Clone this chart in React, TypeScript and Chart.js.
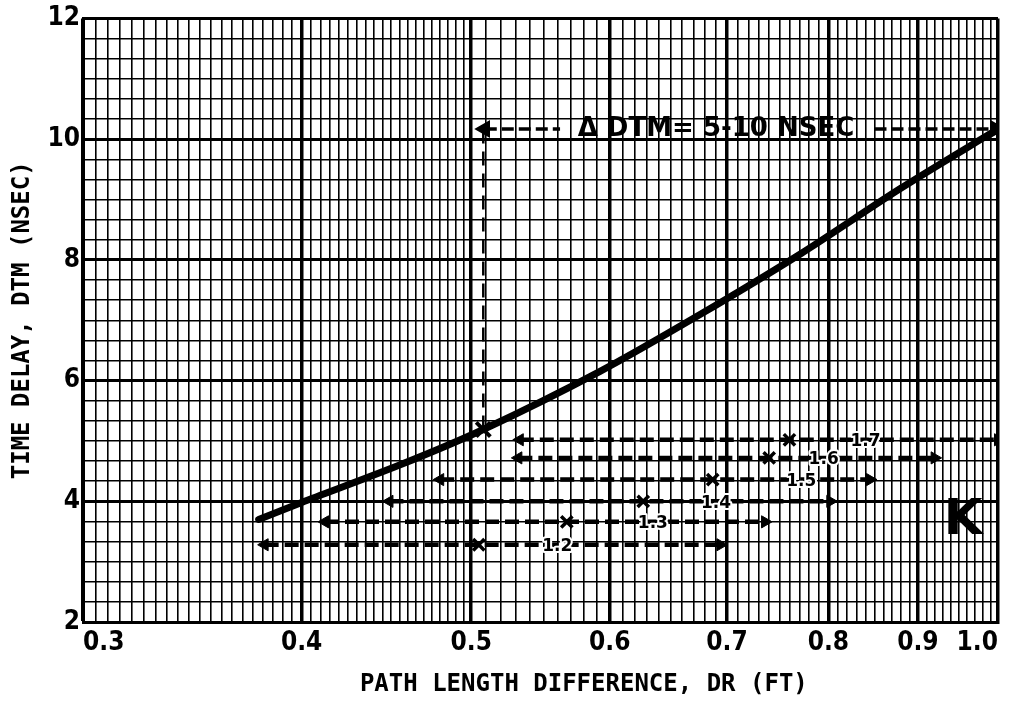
import React, { useEffect, useRef } from "react";
import { Chart, registerables } from "chart.js";

Chart.register(...registerables);

// ---- axes ----
const X_MIN = 0.3;
const X_MAX = 1.0;
const Y_MIN = 2;
const Y_MAX = 12;
const X_TICK_LABELS = [0.3, 0.4, 0.5, 0.6, 0.7, 0.8, 0.9, 1.0];
const Y_TICK_LABELS = [2, 4, 6, 8, 10, 12];
// graph-paper rulings
const X_FINE_LOW = 0.005; // ruling step below 0.5
const X_FINE_HIGH = 0.01; // ruling step from 0.5 up
const Y_FINE = 1 / 3;

// ---- main curve: DTM vs DR ----
const CURVE_DR = [0.378, 0.4, 0.455, 0.508, 0.592, 0.676, 0.771, 0.879, 1.0];
const CURVE_DTM = [3.7, 3.98, 4.6, 5.19, 6.15, 7.1, 8.1, 9.18, 10.17];

// ---- delta DTM bracket ----
const BRACKET_DR = [0.508, 0.508];
const BRACKET_DTM = [5.19, 10.17];
const DELTA_LEFT_DR = [0.509, 0.562];
const DELTA_RIGHT_DR = [0.85, 0.997];
const DELTA_DTM = 10.17;
const DELTA_TEXT = "Δ DTM= 5-10 NSEC";
const DELTA_TEXT_DR = 0.69;

// ---- dashed range arrows ----
const ARROW_DTM = [5.02, 4.72, 4.36, 4.0, 3.66, 3.28];
const ARROW_LEFT = [0.533, 0.532, 0.48, 0.449, 0.4125, 0.381];
const ARROW_RIGHT = [1.0, 0.92, 0.845, 0.802, 0.736, 0.694];
const ARROW_MARK_DR = [0.76, 0.74, 0.687, 0.627, 0.567, 0.505];
const ARROW_LABELS = ["1.7", "1.6", "1.5", "1.4", "1.3", "1.2"];
const ARROW_LABEL_DR = [0.84, 0.795, 0.772, 0.69, 0.635, 0.56];

const K_TEXT = "K";
const K_DR = 0.955;
const K_DTM = 3.68;

const Y_TITLE = "TIME DELAY, DTM (NSEC)";
const X_TITLE = "PATH LENGTH DIFFERENCE, DR (FT)";

const near = (a: number, b: number) => Math.abs(a - b) < 1e-6;

function buildXGrid(): number[] {
  const out: number[] = [];
  let v = X_MIN;
  while (v < 0.5 - 1e-9) {
    out.push(+v.toFixed(4));
    v += X_FINE_LOW;
  }
  v = 0.5;
  while (v <= X_MAX + 1e-9) {
    out.push(+v.toFixed(4));
    v += X_FINE_HIGH;
  }
  return out;
}
function buildYGrid(): number[] {
  const out: number[] = [];
  const n = Math.round((Y_MAX - Y_MIN) / Y_FINE);
  for (let i = 0; i <= n; i++) out.push(Y_MIN + i * Y_FINE);
  return out;
}

const TICK_FONT = "'Liberation Sans Narrow', 'DejaVu Sans Condensed', 'DejaVu Sans', sans-serif";
const TITLE_FONT = "'DejaVu Sans Mono', monospace";
const NOTE_FONT = "'DejaVu Sans', sans-serif";

const notesPlugin = {
  id: "notes",
  afterDatasetsDraw(chart: any) {
    const { ctx, scales } = chart;
    const xs = scales.x;
    const ys = scales.y;
    ctx.save();
    ctx.fillStyle = "#000";
    ctx.textAlign = "center";
    ctx.textBaseline = "middle";
    ctx.font = `bold 26px ${NOTE_FONT}`;
    ctx.fillText(DELTA_TEXT, xs.getPixelForValue(DELTA_TEXT_DR), ys.getPixelForValue(DELTA_DTM));
    ctx.font = `bold 17px ${NOTE_FONT}`;
    ctx.strokeStyle = "#fff";
    ctx.lineWidth = 4;
    ctx.lineJoin = "round";
    ARROW_LABELS.forEach((t, i) => {
      const px = xs.getPixelForValue(ARROW_LABEL_DR[i]);
      const py = ys.getPixelForValue(ARROW_DTM[i]) + 2;
      ctx.strokeText(t, px, py);
      ctx.fillText(t, px, py);
    });
    ctx.font = `bold 50px ${NOTE_FONT}`;
    ctx.fillText(K_TEXT, xs.getPixelForValue(K_DR), ys.getPixelForValue(K_DTM));
    ctx.restore();
  },
};

export default function App() {
  const ref = useRef<HTMLCanvasElement | null>(null);
  useEffect(() => {
    document.body.style.margin = "0";
    const canvas = ref.current;
    if (!canvas) return;
    const xGrid = buildXGrid();
    const yGrid = buildYGrid();

    const arrowSets = ARROW_DTM.map((d, i) => ({
      type: "line" as const,
      data: [
        { x: ARROW_LEFT[i], y: d },
        { x: ARROW_RIGHT[i], y: d },
      ],
      borderColor: "#000",
      backgroundColor: "#000",
      borderWidth: 4.5,
      borderDash: [14, 6],
      pointStyle: "triangle",
      pointRadius: 7,
      pointRotation: [-90, 90],
      pointBorderWidth: 1,
    }));

    const chart = new Chart(canvas, {
      type: "line",
      data: {
        datasets: [
          {
            data: CURVE_DR.map((x, i) => ({ x, y: CURVE_DTM[i] })),
            borderColor: "#000",
            borderWidth: 7,
            pointRadius: 0,
            tension: 0.3,
            borderCapStyle: "round",
          },
          {
            data: BRACKET_DR.map((x, i) => ({ x, y: BRACKET_DTM[i] })),
            borderColor: "#000",
            borderWidth: 2.5,
            borderDash: [14, 8],
            pointRadius: 0,
          },
          {
            data: [
              ...DELTA_LEFT_DR.map((x) => ({ x, y: DELTA_DTM })),
              { x: 0.7, y: null },
              ...DELTA_RIGHT_DR.map((x) => ({ x, y: DELTA_DTM })),
            ],
            borderColor: "#000",
            backgroundColor: "#000",
            borderWidth: 3.5,
            borderDash: [12, 5],
            spanGaps: false,
            pointStyle: "triangle",
            pointRadius: [7, 0, 0, 0, 7],
            pointRotation: [-90, 0, 0, 0, 90],
          },
          ...arrowSets,
          {
            type: "scatter" as const,
            data: ARROW_MARK_DR.map((x, i) => ({ x, y: ARROW_DTM[i] })),
            pointStyle: "crossRot",
            pointRadius: 8,
            borderColor: "#000",
            borderWidth: 3.5,
            showLine: false,
          },
          {
            type: "scatter" as const,
            data: [{ x: BRACKET_DR[0], y: BRACKET_DTM[0] }],
            pointStyle: "crossRot",
            pointRadius: 10,
            borderColor: "#000",
            borderWidth: 4,
            showLine: false,
          },
        ] as any,
      },
      options: {
        responsive: false,
        animation: false,
        parsing: true,
        layout: { padding: { left: 0, top: 18, right: 16, bottom: 0 } },
        plugins: { legend: { display: false }, tooltip: { enabled: false } },
        scales: {
          x: {
            type: "logarithmic",
            min: X_MIN,
            max: X_MAX,
            afterBuildTicks: (s: any) => {
              s.ticks = xGrid.map((value) => ({ value }));
            },
            afterFit: (s: any) => {
              s.height = 105;
            },
            border: { display: true, color: "#000", width: 3 },
            grid: {
              color: "#000",
              drawTicks: false,
              lineWidth: (c: any) =>
                X_TICK_LABELS.some((v) => near(v, c.tick?.value)) ? 3.5 : 1.6,
            },
            ticks: {
              autoSkip: false,
              maxRotation: 0,
              minRotation: 0,
              align: "inner",
              padding: 6,
              color: "#000",
              font: { family: TICK_FONT, size: 26, weight: "bold" },
              callback: (v: any) => {
                const f = X_TICK_LABELS.find((t) => near(t, Number(v)));
                return f === undefined ? "" : f.toFixed(1);
              },
            },
            title: {
              display: true,
              text: "      " + X_TITLE,
              color: "#000",
              font: { family: TITLE_FONT, size: 24, weight: "bold" },
              padding: { top: 0, bottom: 28 },
            },
          },
          y: {
            type: "linear",
            min: Y_MIN,
            max: Y_MAX,
            afterBuildTicks: (s: any) => {
              s.ticks = yGrid.map((value) => ({ value }));
            },
            afterFit: (s: any) => {
              s.width = 83;
            },
            border: { display: true, color: "#000", width: 3 },
            grid: {
              color: "#000",
              drawTicks: false,
              lineWidth: (c: any) =>
                Y_TICK_LABELS.some((v) => near(v, c.tick?.value)) ? 3 : 1.6,
            },
            ticks: {
              autoSkip: false,
              padding: 3,
              color: "#000",
              font: { family: TICK_FONT, size: 26, weight: "bold" },
              callback: (v: any) => {
                const f = Y_TICK_LABELS.find((t) => near(t, Number(v)));
                return f === undefined ? "" : String(f);
              },
            },
            title: {
              display: true,
              text: Y_TITLE,
              color: "#000",
              font: { family: TITLE_FONT, size: 24, weight: "bold" },
              padding: { top: 8, bottom: 0 },
            },
          },
        },
      },
      plugins: [notesPlugin],
    } as any);
    return () => chart.destroy();
  }, []);
  return (
    <div style={{ width: 1014, height: 727 }}>
      <canvas ref={ref} width={1014} height={727} />
    </div>
  );
}
